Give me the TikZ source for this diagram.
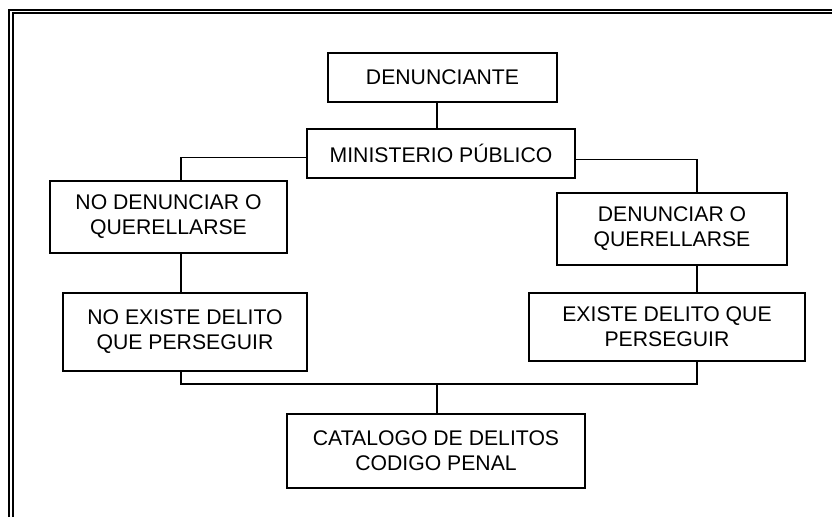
\documentclass[tikz,border=0pt]{standalone}
\usepackage{fontspec}
\setmainfont{Liberation Sans}
\begin{document}
\begin{tikzpicture}[x=1pt,y=-1pt,
  box/.style={draw=black,line width=1.4pt,rectangle,inner sep=0pt,align=center,
    font=\fontsize{21.2}{25}\selectfont},
  conn/.style={draw=black,line width=1.4pt},
  frame/.style={draw=black,line width=2pt}]
\useasboundingbox (0,0) rectangle (832,517);
% double border (left and top)
\draw[frame] (9,517) -- (9,9.5) -- (832,9.5);
\draw[frame] (12.5,517) -- (12.5,13) -- (832,13);
% nodes
\node[box,minimum width=229pt,minimum height=49pt] (den) at (442.5,77.5) {DENUNCIANTE};
\node[box,minimum width=268pt,minimum height=49pt] (mp) at (441,153.5) {MINISTERIO PÚBLICO};
\node[box,minimum width=237pt,minimum height=72pt] (nod) at (168.5,217) {NO DENUNCIAR O\\QUERELLARSE};
\node[box,minimum width=244pt,minimum height=78pt] (noe) at (185,332) {NO EXISTE DELITO\\QUE PERSEGUIR};
\node[box,minimum width=230pt,minimum height=72pt] (d) at (672,229) {DENUNCIAR O\\QUERELLARSE};
\node[box,minimum width=276pt,minimum height=68pt] (e) at (667,327) {EXISTE DELITO QUE\\PERSEGUIR};
\node[box,minimum width=298pt,minimum height=74pt] (cat) at (436,451) {CATALOGO DE DELITOS\\CODIGO PENAL};
% helper coordinates
\coordinate (xl) at (181,0);
\coordinate (xr) at (697,0);
\coordinate (xc) at (437,0);
\coordinate (yb) at (0,384);
% connectors
\draw[conn] (den.south -| xc) -- (mp.north -| xc);
\draw[conn] ([yshift=-4pt]mp.west) -| (nod.north -| xl);
\draw[conn] ([yshift=-6pt]mp.east) -| (d.north -| xr);
\draw[conn] (nod.south -| xl) -- (noe.north -| xl);
\draw[conn] (d.south -| xr) -- (e.north -| xr);
\draw[conn] (noe.south -| xl) |- (xr |- yb) -- (e.south -| xr);
\draw[conn] (xc |- yb) -- (cat.north -| xc);
\end{tikzpicture}
\end{document}
